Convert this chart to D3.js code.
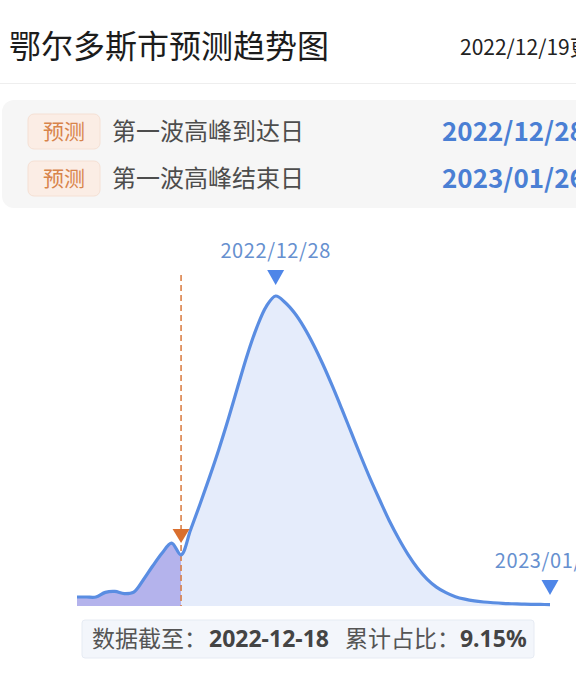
<!DOCTYPE html>
<html lang="zh">
<head>
  <meta charset="UTF-8" />
  <title>鄂尔多斯市预测趋势图</title>
  <script src="https://d3js.org/d3.v7.min.js"></script>
  <style>
    body { margin: 0; background: #fff; }
    text { font-family: "Noto Sans CJK SC", "Noto Sans", sans-serif; }
  </style>
</head>
<body>
<script type="text/javascript">

// daily values, 2022-12-07 .. 2023-01-26 (peak = 100)
var startDate = "2022-12-07";
var values = [2.9, 2.9, 2.9, 4.4, 4.7, 4.0, 4.5, 8.4, 12.9, 17.1,
  20.3, 16.5, 24.5, 32.8, 41.5, 50.6, 60.4, 70.8, 81.0, 89.8,
  96.6, 100, 97.9, 94.5, 89.9, 84.3, 77.9, 70.9, 63.5, 55.9,
  48.3, 41.0, 34.2, 27.6, 21.8, 16.6, 12.2, 8.7, 6.1, 4.3,
  3.0, 2.2, 1.65, 1.3, 1.05, 0.85, 0.72, 0.62, 0.55, 0.5, 0.46];

var cutoffDate = "2022-12-18";
var peakDate = "2022-12-28";
var endDate = "2023-01-26";

var titleText = "鄂尔多斯市预测趋势图";
var updateText = "2022/12/19更新";
var panelRows = [
  {tag: "预测", label: "第一波高峰到达日", date: "2022/12/28"},
  {tag: "预测", label: "第一波高峰结束日", date: "2023/01/26"}
];
var footer = {label1: "数据截至：", value1: "2022-12-18", label2: "累计占比：", value2: "9.15%"};

var parse = d3.timeParse("%Y-%m-%d");
var fmt = d3.timeFormat("%Y/%m/%d");
var day0 = parse(startDate);
var data = values.map(function(v, i) {
  return {date: d3.timeDay.offset(day0, i), value: v};
});

var width = 576, height = 675;

var svg = d3.select("body")
  .append("svg")
  .attr("width", width)
  .attr("height", height);

//header
svg.append("text")
  .attr("x", 9).attr("y", 58)
  .attr("font-size", 32)
  .attr("fill", "#1c1c1c")
  .text(titleText);

svg.append("text")
  .attr("x", 460).attr("y", 55)
  .attr("font-size", 21)
  .attr("fill", "#222")
  .text(updateText);

svg.append("line")
  .attr("x1", 0).attr("x2", width)
  .attr("y1", 83.5).attr("y2", 83.5)
  .attr("stroke", "#eeeeee");

//info panel
svg.append("rect")
  .attr("x", 2).attr("y", 100)
  .attr("width", 600).attr("height", 108)
  .attr("rx", 12)
  .attr("fill", "#f6f6f6");

var rows = svg.selectAll("g.row")
  .data(panelRows)
  .enter().append("g")
  .attr("class", "row")
  .attr("transform", function(d, i) { return "translate(0," + (131 + i * 47) + ")"; });

rows.append("rect")
  .attr("x", 28).attr("y", -17)
  .attr("width", 72).attr("height", 35)
  .attr("rx", 6)
  .attr("fill", "#fbede5")
  .attr("stroke", "#f5e0d4");

rows.append("text")
  .attr("x", 64).attr("y", 8)
  .attr("text-anchor", "middle")
  .attr("font-size", 21)
  .attr("fill", "#d8844b")
  .text(function(d) { return d.tag; });

rows.append("text")
  .attr("x", 112).attr("y", 9)
  .attr("font-size", 24)
  .attr("fill", "#4d4d4d")
  .text(function(d) { return d.label; });

rows.append("text")
  .attr("x", 442).attr("y", 10)
  .attr("font-family", "'Noto Sans', sans-serif")
  .attr("font-size", 26)
  .attr("font-weight", "bold")
  .attr("fill", "#4a7fd4")
  .text(function(d) { return d.date; });

//chart scales
var x = d3.scaleTime()
  .domain([parse(startDate), parse(endDate)])
  .range([77, 550]);

var y = d3.scaleLinear()
  .domain([0, 100])
  .range([606, 296]);

var area = d3.area()
  .curve(d3.curveCatmullRom)
  .x(function(d) { return x(d.date); })
  .y0(y(0))
  .y1(function(d) { return y(d.value); });

var line = d3.line()
  .curve(d3.curveCatmullRom)
  .x(function(d) { return x(d.date); })
  .y(function(d) { return y(d.value); });

var xCut = x(parse(cutoffDate));

svg.append("clipPath")
  .attr("id", "past")
  .append("rect")
  .attr("x", 0).attr("y", 0)
  .attr("width", xCut).attr("height", height);

svg.append("path")
  .datum(data)
  .attr("d", area)
  .attr("fill", "#e5ecfb");

svg.append("path")
  .datum(data)
  .attr("d", area)
  .attr("clip-path", "url(#past)")
  .attr("fill", "#b4b3ec");

//cutoff marker
svg.append("line")
  .attr("x1", xCut).attr("x2", xCut)
  .attr("y1", 275).attr("y2", y(0))
  .attr("stroke", "#d9793d")
  .attr("stroke-width", 1.5)
  .attr("stroke-dasharray", "6,4");

svg.append("path")
  .datum(data)
  .attr("d", line)
  .attr("fill", "none")
  .attr("stroke", "#5a8de2")
  .attr("stroke-width", 3.2)
  .attr("stroke-linejoin", "round");

function triangle(cx, tipY, w, h) {
  return "M" + (cx - w / 2) + "," + (tipY - h) + "L" + (cx + w / 2) + "," + (tipY - h) + "L" + cx + "," + tipY + "Z";
}

svg.append("path")
  .attr("d", triangle(xCut, 543, 17, 14))
  .attr("fill", "#d96f2e");

//peak + end markers
var markers = [
  {date: parse(peakDate), tip: 285, labelY: 258},
  {date: parse(endDate), tip: 595, labelY: 568}
];

svg.selectAll("path.mark")
  .data(markers)
  .enter().append("path")
  .attr("class", "mark")
  .attr("d", function(d) { return triangle(x(d.date), d.tip, 17, 15); })
  .attr("fill", "#4f86e8");

svg.selectAll("text.mark")
  .data(markers)
  .enter().append("text")
  .attr("class", "mark")
  .attr("x", function(d) { return x(d.date); })
  .attr("y", function(d) { return d.labelY; })
  .attr("text-anchor", "middle")
  .attr("font-family", "'Noto Sans', sans-serif")
  .attr("font-size", 20)
  .attr("letter-spacing", 0.6)
  .attr("fill", "#6690cf")
  .text(function(d) { return fmt(d.date); });

//footer
svg.append("rect")
  .attr("x", 82).attr("y", 620)
  .attr("width", 452).attr("height", 38)
  .attr("rx", 3)
  .attr("fill", "#f3f6fb")
  .attr("stroke", "#e6ebf3");

var foot = svg.append("text")
  .attr("x", 92).attr("y", 647)
  .attr("font-size", 23);

foot.append("tspan").attr("fill", "#555").text(footer.label1);
foot.append("tspan").attr("fill", "#444").attr("font-weight", "bold")
  .attr("font-family", "'Noto Sans', sans-serif").attr("dx", 2).text(footer.value1);
foot.append("tspan").attr("fill", "#555").attr("dx", 16).text(footer.label2);
foot.append("tspan").attr("fill", "#444").attr("font-weight", "bold")
  .attr("font-family", "'Noto Sans', sans-serif").text(footer.value2);

</script>
</body>
</html>
